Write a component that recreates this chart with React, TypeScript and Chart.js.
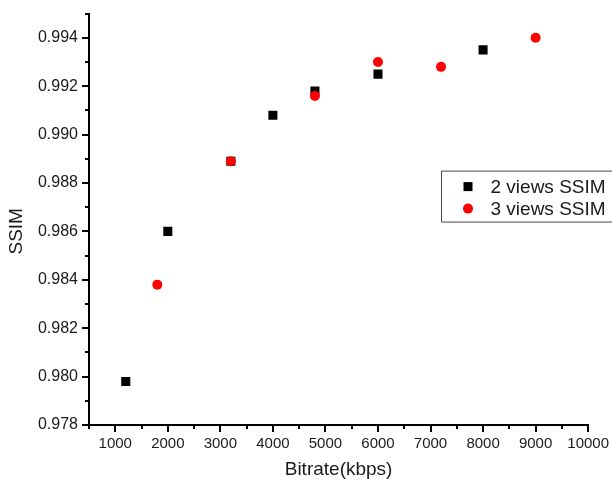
import React, { useEffect, useRef } from "react";
import { Chart, registerables } from "chart.js";

Chart.register(...registerables);

const twoViewsLabel = "2 views SSIM";
const twoViewsX = [1200, 2000, 3200, 4000, 4800, 6000, 8000];
const twoViewsY = [0.9798, 0.986, 0.9889, 0.9908, 0.9918, 0.9925, 0.9935];

const threeViewsLabel = "3 views SSIM";
const threeViewsX = [1800, 3200, 4800, 6000, 7200, 9000];
const threeViewsY = [0.9838, 0.9889, 0.9916, 0.993, 0.9928, 0.994];

const xMajorTicks = [1000, 2000, 3000, 4000, 5000, 6000, 7000, 8000, 9000, 10000];
const xMinorTicks = [500, 1500, 2500, 3500, 4500, 5500, 6500, 7500, 8500, 9500];
const yMajorTicks = [0.978, 0.98, 0.982, 0.984, 0.986, 0.988, 0.99, 0.992, 0.994];
const yMinorTicks = [0.979, 0.981, 0.983, 0.985, 0.987, 0.989, 0.991, 0.993, 0.995];

const xTitle = "Bitrate(kbps)";
const yTitle = "SSIM";

const FONT = "'Liberation Sans', Arial, sans-serif";
const TEXT = "#1a1a1a";

const minorTicksPlugin = {
  id: "minorTicks",
  afterDraw(chart: any) {
    const { ctx, scales, chartArea } = chart;
    ctx.save();
    ctx.strokeStyle = "#000";
    ctx.lineWidth = 2;
    ctx.beginPath();
    for (const v of xMinorTicks) {
      const px = Math.round(scales.x.getPixelForValue(v));
      ctx.moveTo(px, chartArea.bottom);
      ctx.lineTo(px, chartArea.bottom + 4);
    }
    for (const v of yMinorTicks) {
      const py = Math.round(scales.y.getPixelForValue(v));
      ctx.moveTo(chartArea.left, py);
      ctx.lineTo(chartArea.left - 4, py);
    }
    ctx.stroke();
    ctx.restore();
  },
};

const yTitlePlugin = {
  id: "yTitle",
  afterDraw(chart: any) {
    const { ctx, chartArea } = chart;
    ctx.save();
    ctx.translate(17, (chartArea.top + chartArea.bottom) / 2 + 12);
    ctx.rotate(-Math.PI / 2);
    ctx.font = `19px ${FONT}`;
    ctx.fillStyle = TEXT;
    ctx.textAlign = "center";
    ctx.textBaseline = "middle";
    ctx.fillText(yTitle, 0, 0);
    ctx.restore();
  },
};

const legendPlugin = {
  id: "boxLegend",
  afterDraw(chart: any) {
    const { ctx, chartArea } = chart;
    const bx = chartArea.left + 352.5;
    const by = chartArea.top + 157.5;
    ctx.save();
    ctx.strokeStyle = "#444";
    ctx.lineWidth = 1;
    ctx.beginPath();
    ctx.moveTo(bx + 240, by);
    ctx.lineTo(bx, by);
    ctx.lineTo(bx, by + 51);
    ctx.lineTo(bx + 240, by + 51);
    ctx.stroke();
    ctx.font = `19px ${FONT}`;
    ctx.textBaseline = "middle";
    chart.data.datasets.forEach((ds: any, i: number) => {
      const cy = by + 15.5 + i * 22;
      const cx = bx + 26.5;
      ctx.fillStyle = ds.backgroundColor;
      if (ds.pointStyle === "rect") {
        ctx.fillRect(cx - 4.5, cy - 4.5, 9, 9);
      } else {
        ctx.beginPath();
        ctx.arc(cx, cy, 5, 0, Math.PI * 2);
        ctx.fill();
      }
      ctx.fillStyle = TEXT;
      ctx.fillText(ds.label, bx + 49, cy + 1);
    });
    ctx.restore();
  },
};

export default function App() {
  const ref = useRef<HTMLCanvasElement>(null);

  useEffect(() => {
    if (!ref.current) return;
    const chart = new Chart(ref.current, {
      type: "scatter",
      data: {
        datasets: [
          {
            label: twoViewsLabel,
            data: twoViewsX.map((x, i) => ({ x, y: twoViewsY[i] })),
            pointStyle: "rect",
            pointRadius: 6.4,
            backgroundColor: "#000",
            borderColor: "#000",
            borderWidth: 0,
            order: 1,
          },
          {
            label: threeViewsLabel,
            data: threeViewsX.map((x, i) => ({ x, y: threeViewsY[i] })),
            pointStyle: "circle",
            pointRadius: 5,
            backgroundColor: "#ff0000",
            borderColor: "#ff0000",
            borderWidth: 0,
            order: 0,
          },
        ],
      },
      options: {
        responsive: false,
        animation: false,
        layout: { padding: { left: 0, top: 8, right: 23, bottom: 0 } },
        plugins: {
          legend: { display: false },
          tooltip: { enabled: false },
        },
        scales: {
          x: {
            type: "linear",
            min: 500,
            max: 10000,
            afterBuildTicks: (axis: any) => {
              axis.ticks = xMajorTicks.map((v) => ({ value: v }));
            },
            afterFit: (scale: any) => {
              scale.height = 63;
            },
            ticks: {
              autoSkip: false,
              maxRotation: 0,
              padding: 3,
              color: TEXT,
              font: { family: FONT, size: 15 },
              callback: (v: any) => String(v),
            },
            grid: {
              drawOnChartArea: false,
              tickLength: 7,
              lineWidth: 2,
              tickColor: "#000",
            },
            border: { display: true, color: "#000", width: 2 },
            title: {
              display: true,
              text: xTitle,
              color: TEXT,
              font: { family: FONT, size: 19 },
              padding: { top: 0, bottom: 7 },
            },
          },
          y: {
            type: "linear",
            min: 0.978,
            max: 0.995,
            afterBuildTicks: (axis: any) => {
              axis.ticks = yMajorTicks.map((v) => ({ value: v }));
            },
            afterFit: (scale: any) => {
              scale.width = 89;
            },
            ticks: {
              autoSkip: false,
              padding: 4,
              color: TEXT,
              font: { family: FONT, size: 16 },
              callback: (v: any) => Number(v).toFixed(3),
            },
            grid: {
              drawOnChartArea: false,
              tickLength: 7,
              lineWidth: 2,
              tickColor: "#000",
            },
            border: { display: true, color: "#000", width: 2 },
          },
        },
      },
      plugins: [minorTicksPlugin, yTitlePlugin, legendPlugin],
    });
    return () => chart.destroy();
  }, []);

  return (
    <div
      style={{
        position: "fixed",
        left: 0,
        top: 0,
        width: 612,
        height: 488,
        overflow: "hidden",
        background: "#fff",
      }}
    >
      <canvas ref={ref} width={612} height={488} style={{ display: "block" }} />
    </div>
  );
}
